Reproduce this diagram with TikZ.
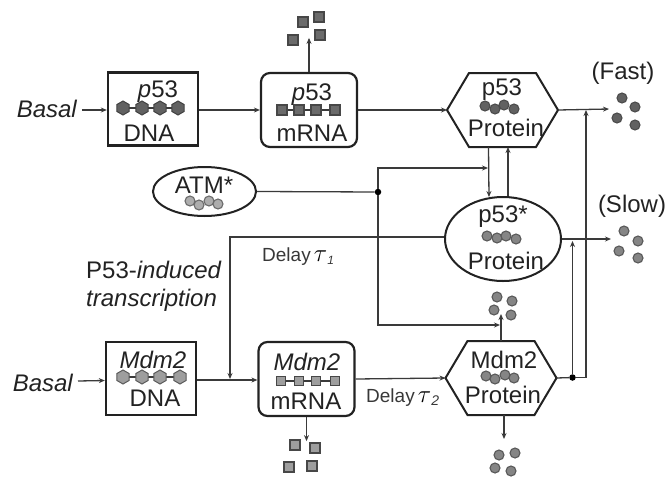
\documentclass[tikz,border=0pt]{standalone}
\usepackage{fontspec}
\setmainfont{Liberation Sans}
\usetikzlibrary{shapes.geometric,arrows.meta,calc}
\definecolor{ink}{HTML}{222222}
\definecolor{lin}{HTML}{3A3A3A}
\newcommand{\hexoutline}[1]{\draw[hexline] (#1.west) -- ($(#1.north west)+(22,0)$) -- ($(#1.north east)+(-22,0)$) -- (#1.east) -- ($(#1.south east)+(-22,0)$) -- ($(#1.south west)+(22,0)$) -- cycle;}
\tikzset{
  txt/.style={font=\fontsize{24}{26}\selectfont, text=ink, inner sep=0pt},
  small/.style={font=\fontsize{19}{21}\selectfont, text=ink!90!white, inner sep=0pt},
  conn/.style={draw=lin, line width=1.3pt, -{Stealth[length=6pt,width=5pt]}},
  plainconn/.style={draw=lin, line width=1.3pt},
  dnabox/.style={draw=ink, line width=2.4pt, minimum width=90pt, minimum height=73pt, inner sep=0pt},
  rnabox/.style={draw=ink, line width=2.2pt, rounded corners=9pt, minimum width=96pt, minimum height=74pt, inner sep=0pt},
  hexbox/.style={rectangle, minimum width=111pt, minimum height=74pt, inner sep=0pt, outer sep=0pt},
  hexline/.style={draw=ink, line width=2pt, line join=miter},
  ell/.style={ellipse, draw=ink, line width=2pt, inner sep=0pt},
  dot/.style={circle, fill=black, minimum size=6.5pt, inner sep=0pt},
  bead/.style={circle, minimum size=10pt, inner sep=0pt, line width=1.1pt},
  darkbead/.style={bead, fill=black!62, draw=black!70},
  midbead/.style={bead, fill=black!48, draw=black!65},
  lightbead/.style={bead, fill=black!32, draw=black!58},
  sq/.style={rectangle, minimum size=10pt, inner sep=0pt, line width=1.4pt},
  darksq/.style={sq, fill=black!58, draw=black!72},
  lightsq/.style={sq, fill=black!38, draw=black!72},
  hexbead/.style={regular polygon, regular polygon sides=6, shape border rotate=30, minimum size=14pt, inner sep=0pt, line width=1pt},
  darkhex/.style={hexbead, fill=black!62, draw=black!75},
  lighthex/.style={hexbead, fill=black!38, draw=black!65},
}
\begin{document}
\begin{tikzpicture}[x=1pt,y=-1pt]
\useasboundingbox (0,0) rectangle (667,477);
% boxes
\node[dnabox] (pdna) at (153,109) {};
\node[rnabox] (prna) at (309,110) {};
\node[hexbox] (pprot) at (502.5,110) {};
\hexoutline{pprot}
\node[ell, minimum width=103pt, minimum height=49pt] (atm) at (204.5,191.5) {};
\node[ell, minimum width=116pt, minimum height=84pt] (pstar) at (503,239) {};
\node[dnabox] (mdna) at (151,378.5) {};
\node[rnabox] (mrna) at (306.5,379) {};
\node[hexbox] (mprot) at (501,378) {};
\hexoutline{mprot}
% free ends and junctions
\node[dot] (atmdot) at (378,192) {};
\node[dot] (mdot) at (572.5,377.5) {};
\coordinate (bend1) at (378,168);
\coordinate (bend2) at (378,325);
\coordinate (bend3) at (586,377.5);
\coordinate (bend4) at (230,237);
% texts
\node[txt, anchor=east] (b1) at (77,109) {\itshape Basal};
\node[txt, anchor=east] (b2) at (73,383) {\itshape Basal};
\node[txt] (t1) at (158,92) {\textit{p}53};
\node[txt] (t2) at (149,133) {DNA};
\node[txt] (t3) at (312,95) {\textit{p}53};
\node[txt] (t4) at (312,133) {mRNA};
\node[txt] (t5) at (502,90) {p53};
\node[txt] (t6) at (506,128) {Protein};
\node[txt] (t7) at (204,185) {ATM*};
\node[txt] (t8) at (503,217) {p53*};
\node[txt] (t9) at (506,261) {Protein};
\node[txt] (t11) at (153,360) {\textit{Mdm2}};
\node[txt] (t12) at (155,398) {DNA};
\node[txt] (t13) at (307,362) {\textit{Mdm2}};
\node[txt] (t14) at (306,401) {mRNA};
\node[txt] (t15) at (504,360) {Mdm2};
\node[txt] (t16) at (503,395) {Protein};
\node[txt] (t17) at (623,73) {(Fast)};
\node[txt] (t18) at (632,206) {(Slow)};
\node[txt, anchor=west] (t19) at (86,270) {P53-\textit{induced}};
\node[txt, anchor=west] (t20) at (86,300) {\textit{transcription}};
\node[small, anchor=west] (t21) at (262,257) {Delay\,\raisebox{0pt}{\fontsize{24}{26}\selectfont\color{black}$\tau$}\raisebox{-3pt}{\fontsize{12}{12}\selectfont\textit{1}}};
\node[small, anchor=west] (t22) at (366,398) {Delay\,\raisebox{0pt}{\fontsize{24}{26}\selectfont\color{black}$\tau$}\raisebox{-3pt}{\fontsize{14}{14}\selectfont\textit{2}}};
% connectors
\draw[conn] ($(pdna.west)+(-25,1)$) -- ($(pdna.west)+(0,1)$);
\draw[conn] ($(pdna.east)+(0,1)$) -- (prna.west);
\draw[conn] (prna.east) -- (pprot.west);
\draw[conn] (pprot.east) -- ++(51,-1);
\draw[conn] (prna.north) -- ++(0,-34);
\draw[conn] ($(pprot.south)+(-14,0)$) -- ($(pstar.north)+(-14,1)$);
\draw[conn] ($(pstar.north)+(5,0)$) -- ($(pprot.south)+(5.5,0)$);
\draw[plainconn] (atm.east) -- (atmdot);
\draw[conn] (atmdot) -- (bend1) -- ++(110,0);
\draw[conn] (atmdot) -- (bend2) -- ++(122,0);
\draw[conn] (mprot.north) -- ++(0,-27);
\draw[conn] (mprot.south) ++(3,0) -- ++(0,24);
\draw[plainconn] (mprot.east) -- (mdot);
\draw[plainconn] (mdot) -- (bend3);
\draw[conn] (bend3) -- (586,110);
\draw[conn] (mdot) -- (572.5,241);
\draw[conn] (pstar.east) -- ++(49,0);
\draw[conn] ($(pstar.west)+(0,-2)$) -- (bend4) -- (230,379);
\draw[conn] ($(b2.east)+(5,-2)$) -- ($(mdna.west)+(0,2)$);
\draw[conn] ($(mdna.east)+(0,1.5)$) -- (mrna.west |- 0,380);
\draw[conn] (mrna.east) -- (mprot.west);
\draw[conn] (mrna.south) -- ++(0,24);
% strands
\draw[plainconn] (123,108) -- (178,108);
\draw[plainconn] (282,110) -- (335,110);
\draw[plainconn] (123,377) -- (180,377);
\draw[plainconn] (281,381) -- (335,381);
\foreach \x [count=\i] in {123,142,160,178} \node[darkhex] (hp\i) at (\x,108) {};
\foreach \x [count=\i] in {123,142,160,180} \node[lighthex] (hm\i) at (\x,377) {};
\foreach \x [count=\i] in {282,299,316,335} \node[darksq] (sp\i) at (\x,110) {};
\foreach \x [count=\i] in {281,299,316,335} \node[lightsq, minimum size=9pt] (sm\i) at (\x,381) {};
% loose squares
\foreach \x/\y [count=\i] in {303/22,319/17,320/35,293/40} \node[darksq] (dp\i) at (\x,\y) {};
\foreach \x/\y [count=\i] in {295/445,315/448,289/467,312/466} \node[lightsq] (dm\i) at (\x,\y) {};
% beads
\foreach \x/\y [count=\i] in {485/106,495/109,504/105,514/109} \node[darkbead] (a\i) at (\x,\y) {};
\foreach \x/\y [count=\i] in {487/236,497/238,506/236,516/239} \node[midbead] (c\i) at (\x,\y) {};
\foreach \x/\y [count=\i] in {190/201,199/205,209/201,218/204} \node[lightbead] (e\i) at (\x,\y) {};
\foreach \x/\y [count=\i] in {486/376,495/379,505/375,514/378} \node[midbead] (f\i) at (\x,\y) {};
\foreach \x/\y [count=\i] in {622/98,635/107,617/118,635/125} \node[darkbead] (g\i) at (\x,\y) {};
\foreach \x/\y [count=\i] in {624/231,638/241,619/251,638/258} \node[midbead] (h\i) at (\x,\y) {};
\foreach \x/\y [count=\i] in {497/297,512/301,494/310,511/315} \node[midbead] (k\i) at (\x,\y) {};
\foreach \x/\y [count=\i] in {499/455,515/453,495/468,511/471} \node[midbead] (l\i) at (\x,\y) {};
\end{tikzpicture}
\end{document}
